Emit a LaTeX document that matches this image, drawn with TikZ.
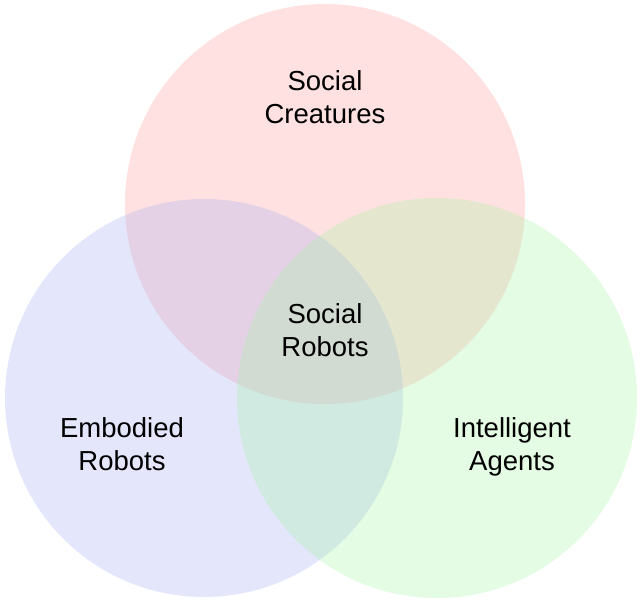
\documentclass[tikz,border=0pt]{standalone}
\usepackage{fontspec}
\setmainfont{Liberation Sans}
\definecolor{creatureset}{RGB}{255,155,155}
\definecolor{robotset}{RGB}{165,175,242}
\definecolor{agentset}{RGB}{165,242,165}
\tikzset{
  venn/.style={fill opacity=0.3},
  label text/.style={align=center,font=\fontsize{27.5}{33}\selectfont,text=black}
}
\begin{document}
\begin{tikzpicture}[x=1pt,y=-1pt]
  % Canvas
  \useasboundingbox (0,0) rectangle (642,602);
  % Social creatures (top)
  \fill[venn,creatureset] (325,204) circle[radius=200pt];
  % Embodied robots (left)
  \fill[venn,robotset] (204,398) circle[radius=199pt];
  % Intelligent agents (right)
  \fill[venn,agentset] (437,398) circle[radius=200pt];
  % Labels
  \node[label text] (creatures) at (325,97) {Social\\Creatures};
  \node[label text] (robots) at (325,330) {Social\\Robots};
  \node[label text] (embodied) at (122,444) {Embodied\\Robots};
  \node[label text] (agents) at (512,447) {Intelligent\\Agents};
\end{tikzpicture}
\end{document}
